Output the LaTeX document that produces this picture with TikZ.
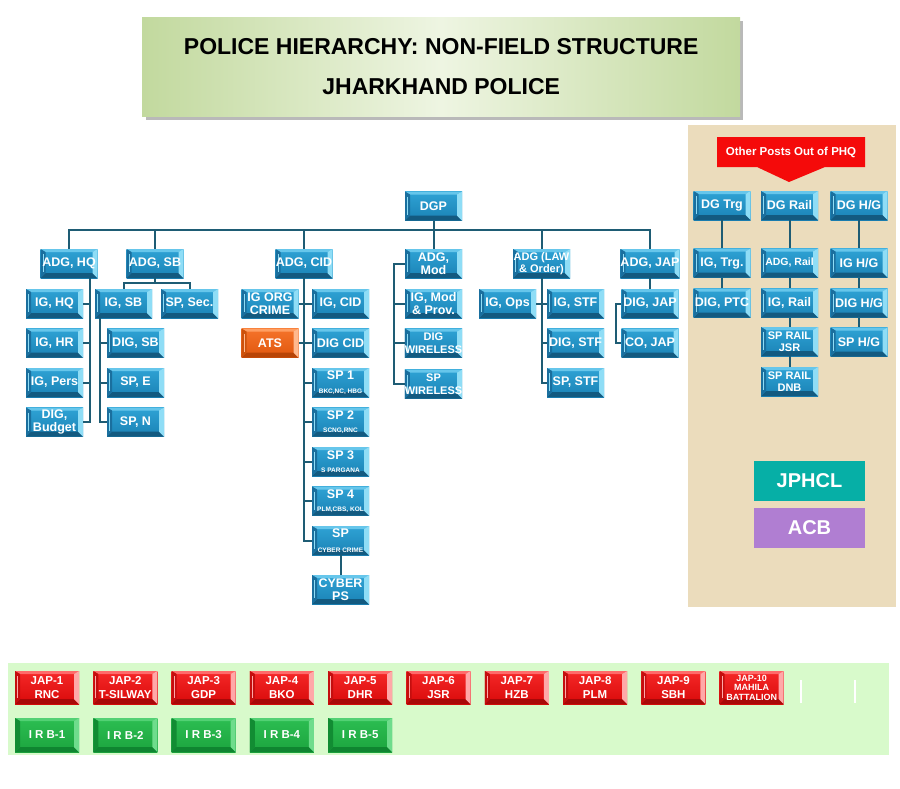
\documentclass[tikz,border=0pt]{standalone}
\usepackage{fontspec}
\setmainfont{Liberation Sans}
\usetikzlibrary{positioning,calc}
\definecolor{wireTeal}{HTML}{1E5C74}
\definecolor{titleGreen}{HTML}{C2D99E}
\definecolor{titleLight}{HTML}{EEF5E2}
\definecolor{sideBeige}{HTML}{EBDCBC}
\definecolor{baseGreen}{HTML}{D8FACB}
\definecolor{jphclTeal}{HTML}{06AFA6}
\definecolor{acbPurple}{HTML}{B07ED2}
\definecolor{phqRed}{HTML}{F50A0A}
%% bevel colours
\definecolor{bluHi}{HTML}{2FA3D5}
\definecolor{bluLo}{HTML}{1A82B5}
\definecolor{bluTop}{HTML}{66C6EB}
\definecolor{bluRight}{HTML}{8FDDF6}
\definecolor{bluBot}{HTML}{135A80}
\definecolor{bluLeft}{HTML}{1A6F9E}
\definecolor{redHi}{HTML}{F52828}
\definecolor{redLo}{HTML}{D90A0A}
\definecolor{redTop}{HTML}{FF6A6A}
\definecolor{redRight}{HTML}{FFA8A8}
\definecolor{redBot}{HTML}{A80808}
\definecolor{redLeft}{HTML}{C40E0E}
\definecolor{grnHi}{HTML}{2CBE52}
\definecolor{grnLo}{HTML}{1CA43E}
\definecolor{grnTop}{HTML}{52D174}
\definecolor{grnRight}{HTML}{6FDC8C}
\definecolor{grnBot}{HTML}{0F8530}
\definecolor{grnLeft}{HTML}{128C33}
\definecolor{orgHi}{HTML}{F5732A}
\definecolor{orgLo}{HTML}{E0560E}
\definecolor{orgTop}{HTML}{FF9E62}
\definecolor{orgRight}{HTML}{FFB98E}
\definecolor{orgBot}{HTML}{B84406}
\definecolor{orgLeft}{HTML}{CC520C}

\newcommand{\smalltag}[1]{{\fontsize{6.5}{8}\selectfont #1}}

\begin{document}
\begin{tikzpicture}[
  x=1pt, y=-1pt,
  font=\bfseries,
  %% Box styles
  bevel/.style n args={7}{
    rectangle, top color=#1, bottom color=#2, text=white,
    align=center, inner sep=0pt,
    minimum width=57pt, minimum height=29pt,
    font=\bfseries\fontsize{12.5}{13.5}\selectfont,
    path picture={
      \path (path picture bounding box.north west) coordinate (bNW)
            (path picture bounding box.north east) coordinate (bNE)
            (path picture bounding box.south west) coordinate (bSW)
            (path picture bounding box.south east) coordinate (bSE);
      \fill[#3] (bNW) -- (bNE) -- ($(bNE)+(-5,3)$) -- ($(bNW)+(5,3)$) -- cycle;
      \fill[#5] (bSW) -- (bSE) -- ($(bSE)+(-5,-5)$) -- ($(bSW)+(5,-5)$) -- cycle;
      \fill[#6] (bNW) -- ($(bNW)+(5,3)$) -- ($(bSW)+(5,-5)$) -- (bSW) -- cycle;
      \fill[#4] (bNE) -- ($(bNE)+(-5,3)$) -- ($(bSE)+(-5,-5)$) -- (bSE) -- cycle;
      \draw[#7, line width=0.8pt] ($(bNW)+(2.5,5)$) -- ($(bSW)+(2.5,-6)$);
    }
  },
  bluebox/.style={bevel={bluHi}{bluLo}{bluTop}{bluRight}{bluBot}{bluLeft}{bluRight}},
  orangebox/.style={bevel={orgHi}{orgLo}{orgTop}{orgRight}{orgBot}{orgLeft}{orgRight}},
  redbox/.style={bevel={redHi}{redLo}{redTop}{redRight}{redBot}{redLeft}{redRight},
                 minimum width=64pt, minimum height=33pt,
                 font=\bfseries\fontsize{11.5}{14}\selectfont},
  greenbox/.style={bevel={grnHi}{grnLo}{grnTop}{grnRight}{grnBot}{grnLeft}{grnLeft},
                   minimum width=64pt, minimum height=34pt,
                   font=\bfseries\fontsize{11.5}{13}\selectfont},
  flatbox/.style={rectangle, minimum width=111pt, minimum height=40pt,
                  text=white, font=\bfseries\fontsize{20}{22}\selectfont},
  %% Connector style
  wire/.style={draw=wireTeal, line width=2pt},
]
\useasboundingbox (0,0) rectangle (900,788);
\fill[white] (0,0) rectangle (900,788);

%% ── Title ──────────────────────────────────────────────────────────────────
\fill[gray!55] (146,21) rectangle (743,120);
\node[anchor=north west, minimum width=598pt, minimum height=99pt, inner sep=0pt,
      left color=titleGreen, right color=titleGreen, middle color=titleLight,
      align=center, font=\bfseries\fontsize{23}{26}\selectfont]
  (title) at (142,17) {POLICE HIERARCHY: NON-FIELD STRUCTURE\\[14pt]JHARKHAND POLICE};

%% ── Panels ─────────────────────────────────────────────────────────────────
\fill[sideBeige] (688,125) rectangle (896,607);
\fill[baseGreen] (8,663) rectangle (889,755);

%% ── Top levels ─────────────────────────────────────────────────────────────
\node[bluebox] (dgp) at (433.5,206) {DGP};

\node[bluebox] (adghq)  at (69,263.5)    {ADG, HQ};
\node[bluebox] (adgsb)  at (155,263.5)   {ADG, SB};
\node[bluebox] (adgcid) at (304,263.5)   {ADG, CID};
\node[bluebox] (adgmod) at (433.5,263.5) {ADG,\\Mod};
\node[bluebox, font=\bfseries\fontsize{11}{12}\selectfont]
               (adglaw) at (541.5,263.5) {ADG (LAW\\\& Order)};
\node[bluebox] (adgjap) at (650,263.5)   {ADG, JAP};

%% ── HQ / SB ────────────────────────────────────────────────────────────────
\node[bluebox] (ighq)   at (54.5,303.5) {IG, HQ};
\node[bluebox] (ighr)   at (54.5,343)   {IG, HR};
\node[bluebox] (igpers) at (54.5,382.5) {IG, Pers};
\node[bluebox] (digbud) at (54.5,422)   {DIG,\\Budget};

\node[bluebox] (igsb)   at (123.5,303.5) {IG, SB};
\node[bluebox] (spsec)  at (189.5,303.5) {SP, Sec.};
\node[bluebox] (digsb)  at (135.5,343)   {DIG, SB};
\node[bluebox] (spe)    at (135.5,382.5) {SP, E};
\node[bluebox] (spn)    at (135.5,422)   {SP, N};

%% ── CID ────────────────────────────────────────────────────────────────────
\node[bluebox]   (igorg)   at (270,303.5)   {IG ORG\\CRIME};
\node[bluebox]   (igcid)   at (340.5,303.5) {IG, CID};
\node[orangebox] (ats)     at (270,343)     {ATS};
\node[bluebox]   (digcid)  at (340.5,343)   {DIG CID};
\node[bluebox]   (sp1)     at (340.5,382.5) {SP 1\\\smalltag{BKC,NC, HBG}};
\node[bluebox]   (sp2)     at (340.5,422)   {SP 2\\\smalltag{SCNG,RNC}};
\node[bluebox]   (sp3)     at (340.5,461.5) {SP 3\\\smalltag{S PARGANA}};
\node[bluebox]   (sp4)     at (340.5,501)   {SP 4\\\smalltag{PLM,CBS, KOL}};
\node[bluebox]   (spcyber) at (340.5,540.5) {SP\\[2pt]\smalltag{CYBER CRIME}};
\node[bluebox]   (cyberps) at (340.5,589.5) {CYBER\\PS};

%% ── Mod / Law / JAP ────────────────────────────────────────────────────────
\node[bluebox] (igmod) at (433.5,303.5) {IG, Mod\\\& Prov.};
\node[bluebox, font=\bfseries\fontsize{11}{13}\selectfont] (digwl) at (433.5,343) {DIG\\WIRELESS};
\node[bluebox, font=\bfseries\fontsize{11}{13}\selectfont] (spwl)  at (433.5,384) {SP\\WIRELESS};

\node[bluebox] (igops)  at (507.5,303.5) {IG, Ops};
\node[bluebox] (igstf)  at (575.5,303.5) {IG, STF};
\node[bluebox] (digstf) at (575.5,343)   {DIG, STF};
\node[bluebox] (spstf)  at (575.5,382.5) {SP, STF};

\node[bluebox] (digjap) at (650,303.5) {DIG, JAP};
\node[bluebox] (cojap)  at (650,343)   {CO, JAP};

%% ── Other posts out of PHQ ─────────────────────────────────────────────────
\fill[phqRed] (717,137) -- (865,137) -- (865,167) -- (825,167)
  -- (789,182) -- (757,167) -- (717,167) -- cycle;
\node[text=white, font=\bfseries\fontsize{11.5}{12}\selectfont] (phq) at (791,152) {Other Posts Out of PHQ};

\node[bluebox] (dgtrg)  at (722,205.5)   {DG Trg};
\node[bluebox] (dgrail) at (789.5,205.5) {DG Rail};
\node[bluebox] (dghg)   at (859,205.5)   {DG H/G};

\node[bluebox] (igtrg)  at (722,263) {IG, Trg.};
\node[bluebox] (digptc) at (722,303) {DIG, PTC};

\node[bluebox, font=\bfseries\fontsize{10.5}{12}\selectfont] (adgrail) at (789.5,263) {ADG, Rail};
\node[bluebox] (igrail)    at (789.5,303)   {IG, Rail};
\node[bluebox, font=\bfseries\fontsize{11}{12}\selectfont] (sprailjsr) at (789.5,341.5) {SP RAIL\\JSR};
\node[bluebox, font=\bfseries\fontsize{11}{12}\selectfont] (spraildnb) at (789.5,381.5) {SP RAIL\\DNB};

\node[bluebox] (ighg)  at (859,263) {IG H/G};
\node[bluebox] (dighg) at (859,303) {DIG H/G};
\node[bluebox] (sphg)  at (859,342) {SP H/G};

\node[flatbox, fill=jphclTeal] (jphcl) at (809.5,481) {JPHCL};
\node[flatbox, fill=acbPurple] (acb)   at (809.5,528) {ACB};

%% ── Battalions ─────────────────────────────────────────────────────────────
\foreach \lab [count=\i] in {RNC,T-SILWAY,GDP,BKO,DHR,JSR,HZB,PLM,SBH}
  \node[redbox] (jap\i) at ({47+78.3*(\i-1)},687.5) {JAP-\i\\\lab};
\node[redbox, font=\bfseries\fontsize{9}{9.5}\selectfont] (jap10) at (751.7,687.5) {JAP-10\\MAHILA\\BATTALION};
\draw[white, line width=1.5pt] (801,680) -- (801,703);
\draw[white, line width=1.5pt] (855,680) -- (855,703);

\foreach \i in {1,...,5}
  \node[greenbox] (irb\i) at ({47+78.3*(\i-1)},735) {I R B-\i};

%% ── Connectors ─────────────────────────────────────────────────────────────
\coordinate (busY) at (0,230);
\coordinate (sbY)  at (0,283);
\coordinate (hqX)  at (90,0);
\coordinate (sbX)  at (100,0);
\coordinate (modX) at (394,0);
\coordinate (japX) at (616,0);

\draw[wire] (adghq.north) -- (adghq.north |- busY) -| (adgjap.north);
\foreach \n in {adgsb,adgcid,adglaw}
  \draw[wire] (\n.north) -- (\n.north |- busY);
\draw[wire] (dgp) -- (adgmod);

%% HQ
\draw[wire] (adghq.south -| hqX) |- (digbud.east);
\foreach \n in {ighq,ighr,igpers}
  \draw[wire] (\n.east) -- (\n.east -| hqX);

%% SB
\draw[wire] (adgsb.south) -- (adgsb.south |- sbY);
\draw[wire] (igsb.north) -- (igsb.north |- sbY) -| (spsec.north);
\draw[wire] (igsb.south -| sbX) |- (spn.west);
\foreach \n in {digsb,spe}
  \draw[wire] (\n.west) -- (\n.west -| sbX);

%% CID
\draw[wire] (adgcid.south) |- (spcyber.west);
\foreach \n in {igcid,digcid,sp1,sp2,sp3,sp4}
  \draw[wire] (\n.west) -- (\n.west -| adgcid.south);
\foreach \n in {igorg,ats}
  \draw[wire] (\n.east) -- (\n.east -| adgcid.south);
\draw[wire] (spcyber) -- (cyberps);

%% Mod
\draw[wire] (adgmod.west) -- (adgmod.west -| modX) |- (spwl.west);
\foreach \n in {igmod,digwl}
  \draw[wire] (\n.west) -- (\n.west -| modX);

%% Law & Order
\draw[wire] (adglaw.south) |- (spstf.west);
\foreach \n in {igstf,digstf}
  \draw[wire] (\n.west) -- (\n.west -| adglaw.south);
\draw[wire] (igops.east) -- (igops.east -| adglaw.south);

%% JAP
\draw[wire] (adgjap) -- (digjap);
\draw[wire] (digjap.west) -- (digjap.west -| japX) |- (cojap.west);

%% Out of PHQ
\draw[wire] (dgtrg) -- (igtrg) -- (digptc);
\draw[wire] (dgrail) -- (adgrail) -- (igrail) -- (sprailjsr) -- (spraildnb);
\draw[wire] (dghg) -- (ighg) -- (dighg) -- (sphg);

\end{tikzpicture}
\end{document}
